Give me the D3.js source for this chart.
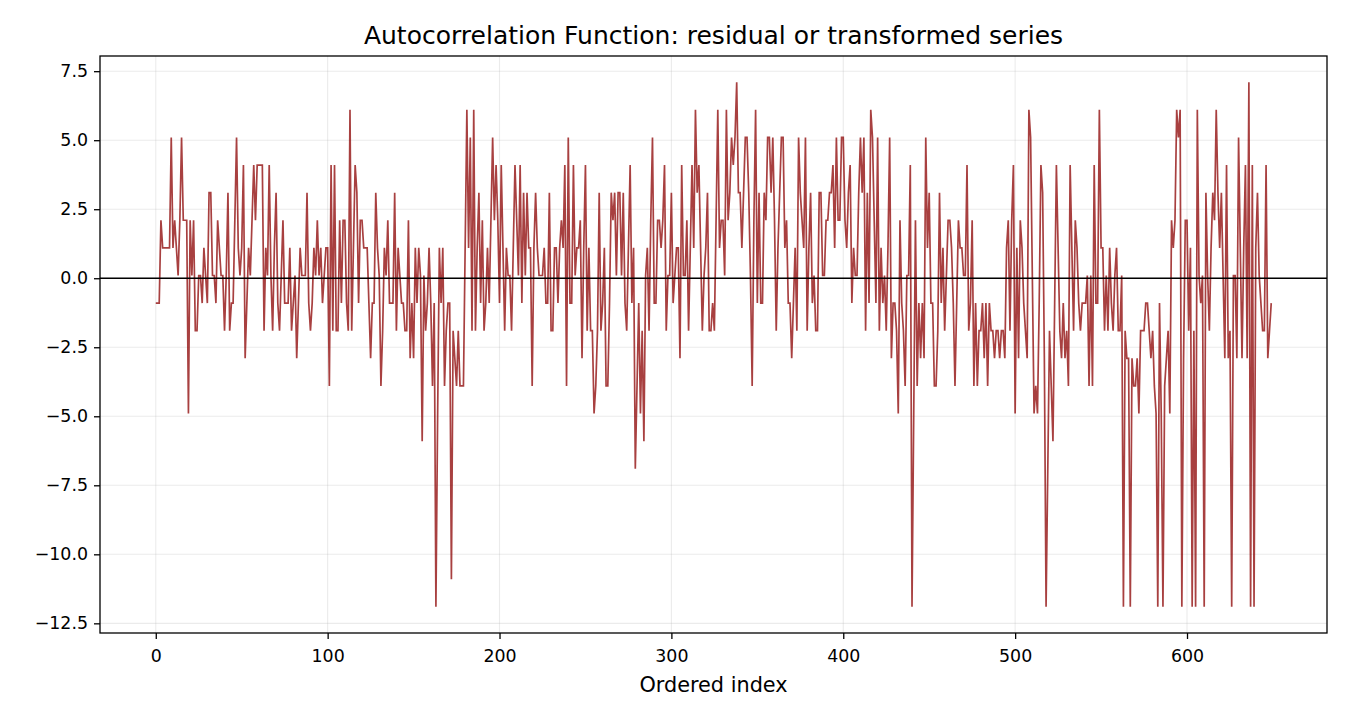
<!DOCTYPE html>
<html>
<head>
<meta charset="utf-8">
<script src="https://cdn.jsdelivr.net/npm/d3@7"></script>
<style>
  html, body { margin: 0; padding: 0; background: #ffffff; }
  svg { display: block; }
  text { font-family: "DejaVu Sans", sans-serif; fill: #000; }
</style>
</head>
<body>
<svg id="chart" width="1350" height="720"></svg>
<script>
const titleText = "Autocorrelation Function: residual or transformed series";
const xLabelText = "Ordered index";
const xTicks = [0, 100, 200, 300, 400, 500, 600];
const yTicks = [-12.5, -10, -7.5, -5, -2.5, 0, 2.5, 5, 7.5];

const values = [
 -0.9,-0.9,-0.9,2.1,1.1,1.1,1.1,1.1,1.1,5.1,
 1.1,2.1,1.1,0.1,2.1,5.1,2.1,2.1,2.1,-4.9,
 2.1,0.1,2.1,-1.9,-1.9,0.1,0.1,-0.9,1.1,0.1,
 -0.9,3.1,3.1,0.1,0.1,-0.9,2.1,1.1,0.1,0.1,
 -1.9,0.1,3.1,-1.9,-0.9,-0.9,2.1,5.1,1.1,0.1,
 1.1,4.1,-2.9,-0.9,1.1,0.1,2.1,4.1,2.1,4.1,
 4.1,4.1,4.1,-1.9,1.1,0.1,4.1,0.1,-1.9,1.1,
 3.1,-0.9,-1.9,0.1,2.1,-0.9,-0.9,-0.9,1.1,-1.9,
 -0.9,0.1,-2.9,-0.9,1.1,0.1,0.1,0.1,3.1,-0.9,
 -1.9,-0.9,1.1,0.1,2.1,0.1,1.1,-0.9,0.1,1.1,
 1.1,-3.9,4.1,-1.9,4.1,-1.9,-1.9,2.1,-0.9,2.1,
 2.1,-0.9,-1.9,6.1,-1.9,1.1,4.1,3.1,-0.9,2.1,
 2.1,1.1,1.1,1.1,-0.9,-2.9,-0.9,-0.9,3.1,1.1,
 0.1,-3.9,-1.9,1.1,0.1,2.1,-0.9,-0.9,-0.9,3.1,
 -1.9,1.1,0.1,-0.9,-0.9,-1.9,-1.9,2.1,-2.9,-0.9,
 -2.9,1.1,-0.9,1.1,0.1,-5.9,0.1,-1.9,-0.9,1.1,
 -0.9,-3.9,-0.9,-11.9,-4.9,1.1,-0.9,1.1,-3.9,-1.9,
 -0.9,-0.9,-10.9,-1.9,-2.9,-3.9,-1.9,-3.9,-3.9,-3.9,
 1.1,6.1,1.1,5.1,-1.9,6.1,-1.9,1.1,3.1,-0.9,
 2.1,-1.9,-0.9,1.1,-0.9,2.1,5.1,2.1,4.1,2.1,
 -0.9,4.1,1.1,-1.9,1.1,0.1,0.1,-1.9,1.1,4.1,
 2.1,0.1,4.1,-0.9,3.1,0.1,3.1,1.1,1.1,-3.9,
 1.1,3.1,1.1,0.1,0.1,0.1,1.1,-0.9,-0.9,3.1,
 -1.9,-1.9,1.1,1.1,-0.9,1.1,2.1,1.1,4.1,-3.9,
 5.1,-0.9,-0.9,4.1,0.1,1.1,1.1,2.1,-2.9,1.1,
 4.1,-1.9,1.1,-1.9,-1.9,-4.9,-3.9,-1.9,3.1,-1.9,
 -0.9,1.1,-3.9,-3.9,-0.9,3.1,2.1,3.1,0.1,3.1,
 3.1,0.1,3.1,-0.9,-1.9,1.1,4.1,-0.9,1.1,-6.9,
 -3.9,-0.9,-4.9,-1.9,-5.9,0.1,1.1,-1.9,2.1,5.1,
 -0.9,-0.9,2.1,2.1,1.1,2.1,4.1,-1.9,0.1,0.1,
 3.1,-0.9,0.1,1.1,1.1,-2.9,4.1,0.1,0.1,2.1,
 -1.9,1.1,4.1,1.1,6.1,3.1,4.1,1.1,-1.9,0.1,
 1.1,3.1,-1.9,-1.9,-0.9,-1.9,2.1,6.1,1.1,2.1,
 2.1,0.1,6.1,2.1,3.1,5.1,4.1,5.1,7.1,3.1,
 3.1,1.1,3.1,5.1,5.1,3.1,0.1,-3.9,2.1,6.1,
 -0.9,3.1,-0.9,-0.9,3.1,2.1,5.1,5.1,3.1,5.1,
 2.1,-1.9,1.1,3.1,5.1,5.1,1.1,2.1,-0.9,-0.9,
 -2.9,-0.9,1.1,-1.9,5.1,3.1,2.1,1.1,5.1,-1.9,
 1.1,3.1,-0.9,0.1,-1.9,-1.9,3.1,3.1,0.1,0.1,
 2.1,2.1,3.1,3.1,4.1,1.1,5.1,2.1,2.1,5.1,
 5.1,2.1,1.1,3.1,4.1,-0.9,1.1,0.1,0.1,3.1,
 5.1,3.1,5.1,-1.9,3.1,-0.9,6.1,5.1,2.1,-0.9,
 5.1,-1.9,1.1,-0.9,0.1,-1.9,1.1,5.1,-2.9,-0.9,
 -0.9,-1.9,-4.9,2.1,-0.9,-1.9,-3.9,0.1,0.1,4.1,
 -11.9,-4.9,2.1,-3.9,-0.9,-2.9,-0.9,-2.9,5.1,1.1,
 3.1,-0.9,-0.9,-3.9,-3.9,-1.9,3.1,-0.9,1.1,-1.9,
 0.1,2.1,2.1,1.1,-0.9,-3.9,-0.9,2.1,1.1,1.1,
 0.1,0.1,4.1,-1.9,-0.9,2.1,-3.9,-0.9,-3.9,-1.9,
 -1.9,-0.9,-2.9,-0.9,-3.9,-0.9,-1.9,-1.9,-2.9,-1.9,
 -1.9,-2.9,-1.9,-1.9,-2.9,1.1,2.1,-1.9,2.1,4.1,
 -4.9,1.1,-2.9,2.1,1.1,-0.9,-1.9,-2.9,6.1,5.1,
 0.1,-4.9,-3.9,-4.9,-0.9,4.1,3.1,-2.9,-11.9,-6.9,
 -1.9,-3.9,-5.9,-0.9,4.1,1.1,-1.9,-2.9,-0.9,-2.9,
 -1.9,-3.9,4.1,1.1,-1.9,2.1,1.1,-0.9,-1.9,-0.9,
 -0.9,-0.9,0.1,-3.9,0.1,-3.9,4.1,-0.9,-0.9,6.1,
 1.1,1.1,-1.9,0.1,-1.9,1.1,-0.9,-1.9,0.1,1.1,
 -1.9,-1.9,0.1,-11.9,-1.9,-2.9,-2.9,-11.9,-2.9,-3.9,
 -3.9,-2.9,-4.9,-1.9,-1.9,-1.9,-0.9,-0.9,-1.9,-2.9,
 -1.9,-3.9,-4.9,-11.9,-0.9,-4.9,-11.9,-3.9,-2.9,-1.9,
 -4.9,2.1,1.1,2.1,6.1,5.1,6.1,-11.9,-2.9,2.1,
 2.1,-1.9,1.1,-11.9,-1.9,-11.9,6.1,0.1,-0.9,0.1,
 -11.9,3.1,0.1,-1.9,1.1,3.1,2.1,6.1,3.1,1.1,
 3.1,0.1,-2.9,4.1,-2.9,-1.9,-11.9,0.1,0.1,-2.9,
 5.1,1.1,-2.9,1.1,4.1,-2.9,7.1,-11.9,4.1,-11.9,
 1.1,3.1,0.1,-0.9,-1.9,-1.9,4.1,-2.9,-1.9,-0.9
];
const indices = values.map((v, i) => i);

const W = 1350, H = 720;
const M = { left: 100, right: 1327, top: 56, bottom: 633 };
const svg = d3.select("#chart");

const n = values.length;
const xPad = (n - 1) * 0.05;
const x = d3.scaleLinear().domain([-xPad, (n - 1) + xPad]).range([M.left, M.right]);
const yMin = d3.min(values), yMax = d3.max(values);
const yPad = (yMax - yMin) * 0.05;
const y = d3.scaleLinear().domain([yMin - yPad, yMax + yPad]).range([M.bottom, M.top]);

svg.append("rect").attr("x", 0).attr("y", 0).attr("width", W).attr("height", H).attr("fill", "#fff");

// grid
const grid = svg.append("g");
grid.selectAll("line.gx").data(xTicks).enter().append("line")
  .attr("x1", d => x(d)).attr("x2", d => x(d))
  .attr("y1", M.top).attr("y2", M.bottom)
  .attr("stroke", "#b0b0b0").attr("stroke-opacity", 0.25).attr("stroke-width", 1.1);
grid.selectAll("line.gy").data(yTicks).enter().append("line")
  .attr("x1", M.left).attr("x2", M.right)
  .attr("y1", d => y(d)).attr("y2", d => y(d))
  .attr("stroke", "#b0b0b0").attr("stroke-opacity", 0.25).attr("stroke-width", 1.1);

// series
const line = d3.line().x((d, i) => x(indices[i])).y(d => y(d));
svg.append("path").datum(values)
  .attr("d", line)
  .attr("fill", "none")
  .attr("stroke", "#8b0000").attr("stroke-opacity", 0.75)
  .attr("stroke-width", 1.7)
  .attr("stroke-linejoin", "miter");

// zero line
svg.append("line")
  .attr("x1", M.left).attr("x2", M.right)
  .attr("y1", y(0)).attr("y2", y(0))
  .attr("stroke", "#000").attr("stroke-width", 1.3);

// axes
const fmtY = d3.format(".1f");
const xAxis = d3.axisBottom(x).tickValues(xTicks).tickFormat(d3.format("d")).tickSizeOuter(0).tickSize(6).tickPadding(11);
const yAxis = d3.axisLeft(y).tickValues(yTicks).tickFormat(fmtY).tickSizeOuter(0).tickSize(6).tickPadding(6);

const gx = svg.append("g").attr("transform", `translate(0,${M.bottom})`).call(xAxis);
const gy = svg.append("g").attr("transform", `translate(${M.left},0)`).call(yAxis);
[gx, gy].forEach(g => {
  g.select(".domain").remove();
  g.selectAll(".tick line").attr("stroke", "#000").attr("stroke-width", 1.3);
  g.selectAll(".tick text").attr("font-family", "DejaVu Sans").attr("font-size", "17.4px").attr("fill", "#000");
});

// frame
svg.append("rect")
  .attr("x", M.left).attr("y", M.top)
  .attr("width", M.right - M.left).attr("height", M.bottom - M.top)
  .attr("fill", "none").attr("stroke", "#000").attr("stroke-width", 1.3);

// title & label
svg.append("text").attr("x", (M.left + M.right) / 2).attr("y", 44)
  .attr("text-anchor", "middle").attr("font-size", "25px").text(titleText);
svg.append("text").attr("x", (M.left + M.right) / 2).attr("y", 692)
  .attr("text-anchor", "middle").attr("font-size", "20.8px").text(xLabelText);
</script>
</body>
</html>
